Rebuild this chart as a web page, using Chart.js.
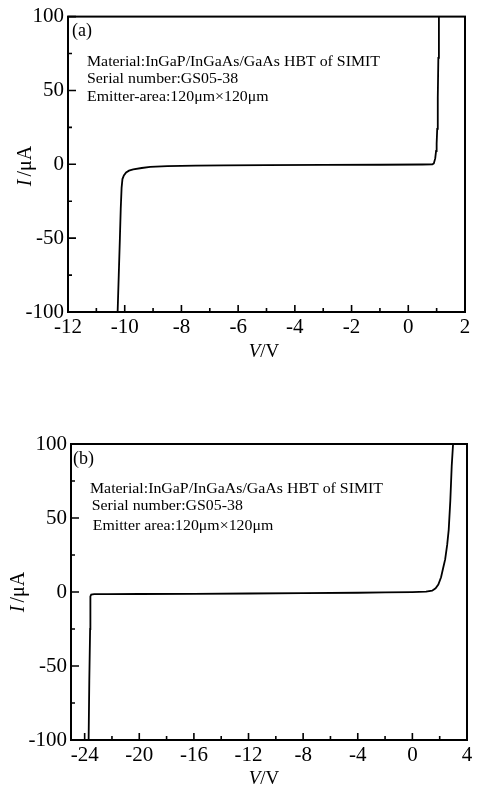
<!DOCTYPE html>
<html><head><meta charset="utf-8">
<script src="https://cdn.jsdelivr.net/npm/chart.js@4/dist/chart.umd.min.js"></script>
<style>
html,body{margin:0;padding:0;background:#fff;width:478px;height:785px;overflow:hidden}
canvas{position:absolute;left:0}
#c1{top:0}
#c2{top:392px}
</style></head><body>
<canvas id="c1" width="478" height="392"></canvas>
<canvas id="c2" width="478" height="393"></canvas>
<script>
// ---- data ----
const voltageA = [-10.25,-10.21,-10.17,-10.14,-10.11,-10.08,-10.03,-9.95,-9.85,-9.7,-9.4,-9.1,-8.5,-7.5,-6.5,-5,-3,-1,0.5,0.85,0.9,0.95,0.98,1.0,1.02,1.04,1.06,1.08];
const currentA = [-100,-75,-50,-30,-16,-10,-7.5,-5.5,-4.3,-3.5,-2.5,-1.8,-1.2,-0.9,-0.7,-0.6,-0.45,-0.3,-0.15,0,0.6,4,9,14,24,45,72,100];
const voltageB = [-23.71,-23.66,-23.6,-23.58,-23.52,-23.3,-22.3,-20,-16,-12,-8,-4,-2,0,1.0,1.45,1.7,1.9,2.1,2.25,2.4,2.55,2.66,2.78,2.88,2.98];
const currentB = [-100,-60,-25,-3,-1.8,-1.5,-1.4,-1.35,-1.2,-1.0,-0.8,-0.5,-0.3,-0.1,0.2,0.9,2.5,5,10,16,22,32,42,62,85,100];
const xTicksA = [-12,-10,-8,-6,-4,-2,0,2];
const xTicksB = [-24,-20,-16,-12,-8,-4,0,4];
const yTicks = [-100,-50,0,50,100];
const panelA = "(a)";
const panelB = "(b)";
const notesA = ["Material:InGaP/InGaAs/GaAs HBT of SIMIT","Serial number:GS05-38","Emitter-area:120\u03bcm\u00d7120\u03bcm"];
const notesB = ["Material:InGaP/InGaAs/GaAs HBT of SIMIT","Serial number:GS05-38","Emitter area:120\u03bcm\u00d7120\u03bcm"];

const SERIF = '"Liberation Serif","Times New Roman",serif';

function framePlugin(cfg){
  return {
    id:'frame'+cfg.panel,
    afterDraw(chart){
      const ctx = chart.ctx, a = chart.chartArea;
      const xs = chart.scales.x, ys = chart.scales.y;
      ctx.save();
      ctx.strokeStyle = '#000';
      ctx.lineWidth = 2;
      ctx.strokeRect(a.left, a.top, a.right-a.left, a.bottom-a.top);
      ctx.lineWidth = 1.6;
      ctx.beginPath();
      const xt = cfg.xTicks;
      for (let i=0;i<xt.length;i++){
        const p = xs.getPixelForValue(xt[i]);
        ctx.moveTo(p, a.bottom); ctx.lineTo(p, a.bottom-7);
        if (i < xt.length-1){
          const m = xs.getPixelForValue((xt[i]+xt[i+1])/2);
          ctx.moveTo(m, a.bottom); ctx.lineTo(m, a.bottom-4);
        }
      }
      for (let i=0;i<yTicks.length;i++){
        const p = ys.getPixelForValue(yTicks[i]);
        ctx.moveTo(a.left, p); ctx.lineTo(a.left+8, p);
        if (i < yTicks.length-1){
          const m = ys.getPixelForValue((yTicks[i]+yTicks[i+1])/2);
          ctx.moveTo(a.left, m); ctx.lineTo(a.left+4, m);
        }
      }
      ctx.stroke();
      // panel label and notes
      ctx.fillStyle = '#000';
      ctx.textAlign = 'left';
      ctx.textBaseline = 'alphabetic';
      ctx.font = '18px ' + SERIF;
      ctx.fillText(cfg.panel, a.left + cfg.panelDx, a.top + cfg.panelDy);
      ctx.font = '14px ' + SERIF;
      const sx = 293 / ctx.measureText(cfg.notes[0]).width;
      cfg.notes.forEach((t,i)=>{
        ctx.save();
        ctx.translate(a.left + cfg.noteDx[i], a.top + cfg.noteDy[i]);
        ctx.scale(sx, 1);
        ctx.fillText(t, 0, 0);
        ctx.restore();
      });
      // x title: italic V + "/V"
      ctx.font = 'italic 19px ' + SERIF;
      const w1 = ctx.measureText('V').width;
      ctx.font = '19px ' + SERIF;
      const w2 = ctx.measureText('/V').width;
      let x0 = cfg.xTitleX - (w1+w2)/2;
      ctx.font = 'italic 19px ' + SERIF;
      ctx.fillText('V', x0, a.bottom + cfg.xTitleDy);
      ctx.font = '19px ' + SERIF;
      ctx.fillText('/V', x0 + w1, a.bottom + cfg.xTitleDy);
      // y title rotated
      ctx.translate(cfg.yTitleX, cfg.yTitleY);
      ctx.rotate(-Math.PI/2);
      ctx.font = 'italic 20px ' + SERIF;
      const v1 = ctx.measureText('I').width;
      ctx.font = '20px ' + SERIF;
      const v2 = ctx.measureText('/\u03bcA').width;
      const s0 = -(v1+v2+3)/2;
      ctx.textBaseline = 'middle';
      ctx.font = 'italic 20px ' + SERIF;
      ctx.fillText('I', s0, 0);
      ctx.font = '20px ' + SERIF;
      ctx.fillText('/\u03bcA', s0 + v1 + 3, 0);
      ctx.restore();
    }
  };
}

function makeChart(id, volts, amps, xmin, xmax, xTicks, pad, yW, xH, cfg){
  return new Chart(document.getElementById(id), {
    type:'scatter',
    data:{datasets:[{
      data: volts.map((v,i)=>({x:v, y:amps[i]})),
      showLine:true, borderColor:'#000', borderWidth:1.8,
      pointRadius:0, fill:false, tension:0
    }]},
    options:{
      responsive:false, animation:false, devicePixelRatio:1,
      layout:{padding:pad},
      plugins:{legend:{display:false}, tooltip:{enabled:false}},
      scales:{
        x:{type:'linear', min:xmin, max:xmax,
           grid:{display:false, drawTicks:false}, border:{display:false},
           afterBuildTicks(s){ s.ticks = xTicks.map(v=>({value:v})); },
           afterFit(s){ s.height = xH; },
           ticks:{color:'#000', padding:3, autoSkip:false, maxRotation:0,
                  font:{family:SERIF, size:21}, callback:v=>String(v)}},
        y:{type:'linear', min:-100, max:100,
           grid:{display:false, drawTicks:false}, border:{display:false},
           afterBuildTicks(s){ s.ticks = yTicks.map(v=>({value:v})); },
           afterFit(s){ s.width = yW; },
           ticks:{color:'#000', padding:4, font:{family:SERIF, size:21}, callback:v=>String(v)}}
      }
    },
    plugins:[framePlugin(Object.assign({xTicks}, cfg))]
  });
}

makeChart('c1', voltageA, currentA, -12, 2, xTicksA,
  {top:16, right:13, left:0, bottom:0}, 68, 80,
  {panel:panelA, notes:notesA, panelDx:4, panelDy:19,
   noteDx:[19,19,19], noteDy:[49.5,66.7,84.7],
   xTitleX:264, xTitleDy:45, yTitleX:26, yTitleY:166});

makeChart('c2', voltageB, currentB, -25, 4, xTicksB,
  {top:52, right:11, left:0, bottom:0}, 71, 45,
  {panel:panelB, notes:notesB, panelDx:2, panelDy:20,
   noteDx:[19,20.7,21.7], noteDy:[49.3,66,86],
   xTitleX:264, xTitleDy:44, yTitleX:19, yTitleY:200});
</script>
</body></html>
